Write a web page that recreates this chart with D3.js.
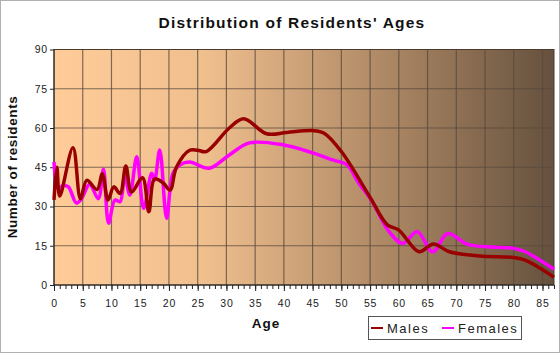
<!DOCTYPE html>
<html>
<head>
<meta charset="utf-8">
<script src="https://cdn.jsdelivr.net/npm/d3@7"></script>
<style>
  body { margin: 0; background: #fff; }
  text { font-family: "Liberation Sans", Arial, sans-serif; }
</style>
</head>
<body>
<div id="chart"></div>
<script>
// values
let maleAges = [0, 0.5, 1, 3.3, 4.6, 5.7, 7.5, 8.4, 9.4, 10.4, 11.5, 12.5, 13.5, 15.4, 16.5, 17.5, 19, 20.2, 21.3, 23.6, 25, 26.5, 30.5, 33, 37, 40.5, 45, 47, 50, 55, 58, 60, 63.5, 66, 68.8, 74, 80, 82, 87];
let maleValues = [32.5, 45, 34, 52.5, 33, 40, 36.5, 42.5, 32.5, 37.5, 35, 45.5, 35.5, 41, 28, 40.5, 39, 36.3, 45, 51.5, 51.5, 51, 60, 63.5, 57.8, 58.3, 59, 58, 51, 33.5, 23, 21, 12.7, 15.7, 12.7, 11.1, 10.5, 9.5, 3];

let femaleAges = [0, 0.75, 1.6, 2.5, 3.9, 4.8, 6.2, 7.7, 8.6, 9.5, 10.6, 11.5, 12.3, 13.2, 14.4, 15.6, 17, 17.5, 18.4, 19.6, 20.7, 22, 23.6, 27, 30.5, 34, 40, 45, 48.5, 51, 53, 55.2, 58.3, 60.7, 63.2, 65.9, 68.5, 72, 80, 82, 87];
let femaleValues = [47, 37, 38, 37.5, 31.3, 33, 38.5, 33, 44.2, 23.6, 32.5, 31.8, 41.4, 34.4, 49, 29.3, 42.7, 40, 51.6, 25.5, 42.7, 46, 47, 44.6, 49.7, 54.3, 53.5, 50.5, 47.8, 45.9, 39, 32.5, 20.4, 15.9, 20.4, 12.7, 19.7, 15.5, 14, 12.7, 6];

let xTicks = d3.range(0, 86, 5);
let yTicks = [0, 15, 30, 45, 60, 75, 90];

let width = 560;
let height = 353;
let margin = { top: 49.5, right: 6, bottom: 68, left: 54 };

let x = d3.scaleLinear()
    .domain([0, 87])
    .range([margin.left, width - margin.right]);

let y = d3.scaleLinear()
    .domain([0, 90])
    .range([height - margin.bottom, margin.top]);

const svg = d3.select('#chart')
    .append('svg')
    .attr('width', width)
    .attr('height', height);

svg.append('rect')
    .attr('x', 0.5).attr('y', 0.5)
    .attr('width', width - 1).attr('height', height - 1)
    .attr('fill', '#fff')
    .attr('stroke', '#b0b0b0');

// background gradient
let grad = svg.append('defs').append('linearGradient')
    .attr('id', 'bg')
    .attr('x1', '0%').attr('x2', '100%')
    .attr('y1', '0%').attr('y2', '0%');
grad.append('stop').attr('offset', '0%').attr('stop-color', '#ffcc99');
grad.append('stop').attr('offset', '30%').attr('stop-color', '#f0bf8e');
grad.append('stop').attr('offset', '65%').attr('stop-color', '#b08a66');
grad.append('stop').attr('offset', '100%').attr('stop-color', '#65513e');

svg.append('rect')
    .attr('x', x(0)).attr('y', y(90))
    .attr('width', x(87) - x(0))
    .attr('height', y(0) - y(90))
    .attr('fill', 'url(#bg)')
    .attr('stroke', '#4a3a2c');

// grid
svg.append('g')
    .selectAll('line')
    .data(xTicks.filter(d => d > 0))
    .join('line')
    .attr('x1', d => x(d)).attr('x2', d => x(d))
    .attr('y1', y(0)).attr('y2', y(90))
    .attr('stroke', '#55483c')
    .attr('stroke-opacity', 0.75)
    .attr('stroke-width', 1.2);

svg.append('g')
    .selectAll('line')
    .data(yTicks.filter(d => d > 0 && d < 90))
    .join('line')
    .attr('x1', x(0)).attr('x2', x(87))
    .attr('y1', d => y(d)).attr('y2', d => y(d))
    .attr('stroke', '#55483c')
    .attr('stroke-opacity', 0.75)
    .attr('stroke-width', 1.2);

// axes
let xAxis = (g) => g
    .attr('transform', `translate(0,${y(0)})`)
    .call(d3.axisBottom(x).tickValues(d3.range(0, 88, 1)).tickSize(4).tickFormat(''))
    .call(g => g.select('.domain').remove());

let xAxisLabels = (g) => g
    .attr('transform', `translate(0,${y(0)})`)
    .call(d3.axisBottom(x).tickValues(xTicks).tickSize(6).tickPadding(9))
    .call(g => g.select('.domain').remove());

let yAxis = (g) => g
    .attr('transform', `translate(${x(0)},0)`)
    .call(d3.axisLeft(y).tickValues(yTicks).tickSize(4).tickPadding(2))
    .call(g => g.select('.domain').remove());

svg.append('g').call(xAxis);
svg.append('g').call(xAxisLabels);
svg.append('g').call(yAxis);

svg.selectAll('.tick line').attr('stroke', '#222');
svg.selectAll('.tick text')
    .attr('fill', '#222')
    .style('font-size', '10.5px')
    .style('letter-spacing', '0.8px');

svg.append('line')
    .attr('x1', x(0)).attr('x2', x(87))
    .attr('y1', y(0)).attr('y2', y(0))
    .attr('stroke', '#222');
svg.append('line')
    .attr('x1', x(0)).attr('x2', x(0))
    .attr('y1', y(0)).attr('y2', y(90))
    .attr('stroke', '#222');

// lines
let line = d3.line()
    .x(d => x(d[0]))
    .y(d => y(d[1]))
    .curve(d3.curveCatmullRom.alpha(0.5));

let females = femaleAges.map((a, i) => [a, femaleValues[i]]);
let males = maleAges.map((a, i) => [a, maleValues[i]]);

svg.append('path')
    .datum(females)
    .attr('d', line)
    .attr('fill', 'none')
    .attr('stroke', '#ff00ff')
    .attr('stroke-width', 3.5);

svg.append('path')
    .datum(males)
    .attr('d', line)
    .attr('fill', 'none')
    .attr('stroke', '#990000')
    .attr('stroke-width', 3.5);

// titles
svg.append('text')
    .attr('x', 292).attr('y', 28)
    .attr('text-anchor', 'middle')
    .style('font-size', '15.5px')
    .style('font-weight', 'bold')
    .style('letter-spacing', '1.2px')
    .attr('fill', '#111')
    .text("Distribution of Residents' Ages");

svg.append('text')
    .attr('transform', 'translate(17,167) rotate(-90)')
    .attr('text-anchor', 'middle')
    .style('font-size', '13.5px')
    .style('font-weight', 'bold')
    .style('letter-spacing', '0.6px')
    .attr('fill', '#111')
    .text('Number of residents');

svg.append('text')
    .attr('x', 266).attr('y', 328)
    .attr('text-anchor', 'middle')
    .style('font-size', '13.5px')
    .style('font-weight', 'bold')
    .style('letter-spacing', '1px')
    .attr('fill', '#111')
    .text('Age');

// legend
let legend = svg.append('g');
legend.append('rect')
    .attr('x', 368.5).attr('y', 316.5)
    .attr('width', 153).attr('height', 23)
    .attr('fill', '#fff')
    .attr('stroke', '#555');

let legendItems = [
    { name: 'Males', color: '#990000', x: 371 },
    { name: 'Females', color: '#ff00ff', x: 442 }
];

legend.selectAll('line')
    .data(legendItems)
    .join('line')
    .attr('x1', d => d.x).attr('x2', d => d.x + 12)
    .attr('y1', 328).attr('y2', 328)
    .attr('stroke', d => d.color)
    .attr('stroke-width', 2);

legend.selectAll('text')
    .data(legendItems)
    .join('text')
    .attr('x', d => d.x + 16)
    .attr('y', 332.5)
    .style('font-size', '13px')
    .style('letter-spacing', '1.5px')
    .attr('fill', '#222')
    .text(d => d.name);
</script>
</body>
</html>
